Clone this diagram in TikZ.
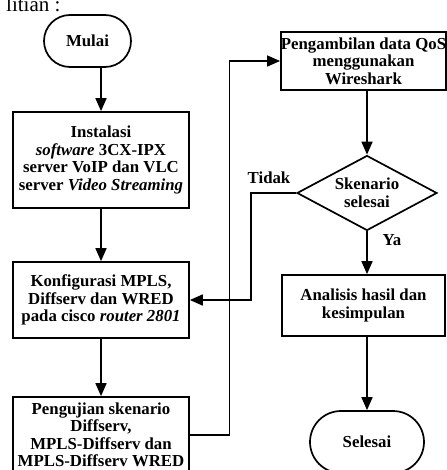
\documentclass[tikz,border=0pt]{standalone}
\usepackage{fontspec}
\setmainfont{Liberation Serif}
\usetikzlibrary{arrows.meta,shapes.geometric}

\tikzset{
  flow/.style={line width=1.7pt},
  arr/.style={flow,-{Triangle[length=13pt,width=11pt]}},
  txt/.style={font=\fontsize{16.8pt}{17.5pt}\selectfont\bfseries,align=center,inner sep=0pt},
  procbox/.style={txt,draw,line width=1.7pt,rectangle},
  terminal/.style={txt,draw,line width=1.7pt,rectangle},
  decision/.style={txt,draw,line width=1.7pt,diamond,aspect=1.87}
}

\begin{document}
\begin{tikzpicture}[x=1pt,y=-1pt]
\useasboundingbox (0,0) rectangle (446,470);

% heading fragment at the top
\node[anchor=base west,inner sep=0pt,font=\fontsize{21pt}{23pt}\selectfont] (head) at (6,11.5) {litian :};

% left column
\node[terminal,minimum width=87pt,minimum height=52pt,rounded corners=26pt] (mulai) at (87.5,41) {Mulai};
\node[procbox,minimum width=176pt,minimum height=96pt] (inst) at (101,160)
  {Instalasi\\\textit{software} 3CX-IPX\\server VoIP dan VLC\\server \textit{Video Streaming}};
\node[procbox,minimum width=176pt,minimum height=76pt] (konf) at (101,300)
  {Konfigurasi MPLS,\\Diffserv dan WRED\\pada cisco \textit{router 2801}};
\node[procbox,minimum width=176pt,minimum height=76pt] (peng) at (101,435)
  {Pengujian skenario\\Diffserv,\\MPLS-Diffserv dan\\MPLS-Diffserv WRED};

% right column
\node[procbox,minimum width=163pt,minimum height=58pt] (ambil) at (363.5,61)
  {Pengambilan data QoS\\menggunakan\\Wireshark};
\node[decision,minimum width=140pt,minimum height=75pt] (dia) at (367,193)
  {Skenario\\selesai};
\node[procbox,minimum width=163pt,minimum height=61pt] (anal) at (363.5,305.5)
  {Analisis hasil dan\\kesimpulan};
\node[terminal,minimum width=114pt,minimum height=62pt,rounded corners=31pt] (sel) at (367,442) {Selesai};

% branch labels
\node[txt] (tidak) at (269,178) {Tidak};
\node[txt] (ya) at (392,240) {Ya};

% connectors
\draw[arr] (mulai.south -| konf.north) -- (konf.north |- inst.north);
\draw[arr] (inst.south -| konf.north) -- (konf.north);
\draw[arr] (konf.south) -- (peng.north);
\draw[arr] (peng.east) -- ++(39.5,0) |- (ambil.west);
\draw[arr] (ambil.south -| dia.north) -- (dia.north);
\draw[arr] (dia.west) -- ++(-45.5,0) |- (konf.east);
\draw[arr] (dia.south) -- (dia.south |- anal.north);
\draw[arr] (anal.south -| sel.north) -- (sel.north);
\end{tikzpicture}
\end{document}
